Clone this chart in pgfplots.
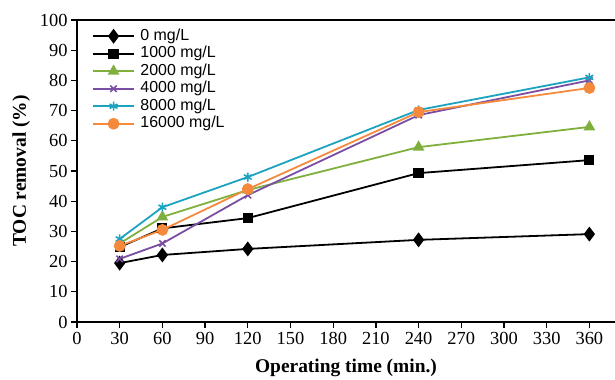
\documentclass[border=0pt]{standalone}
\usepackage{fontspec}
\setmainfont{Liberation Serif}
\newfontfamily\arial{Liberation Sans}
\usepackage{pgfplots}
\pgfplotsset{compat=1.18}
\usetikzlibrary{calc}
\definecolor{cgreen}{HTML}{7FB03E}
\definecolor{cpurple}{HTML}{7A4FA3}
\definecolor{ccyan}{HTML}{1BA3C0}
\definecolor{corange}{HTML}{F58A3C}
\begin{document}
\begin{tikzpicture}
\begin{axis}[name=ax,
  scale only axis, width=538bp, height=302bp,
  xmin=0, xmax=378, ymin=0, ymax=100,
  axis x line*=box, axis y line*=left,
  axis line style={-, line width=1.6bp, black},
  every outer x axis line/.append style={-},
  every outer y axis line/.append style={-},
  xtick={0,30,...,360}, ytick={0,10,...,100},
  xtick pos=bottom, ytick pos=left,
  tick align=outside, major tick length=6bp,
  every tick/.style={black, line width=1.3bp},
  /pgf/number format/assume math mode=true,
  tick label style={font=\fontsize{18.5}{20}\selectfont},
  xticklabel style={yshift=-1bp},
  xlabel={\textbf{Operating time (min.)}},
  ylabel={\textbf{TOC removal (\%)}},
  label style={font=\fontsize{19.5}{22}\selectfont},
  xlabel style={yshift=-7bp},
  ylabel style={yshift=3bp},
  legend cell align=left,
  legend style={draw=none, fill=none, at={(0.028,0.975)}, anchor=north west,
    font=\arial\fontsize{16}{17}\selectfont, row sep=0.5bp, inner sep=0bp,
    nodes={inner sep=1bp, text height=11.5bp, text depth=3.5bp}},
  legend image code/.code={\draw[mark repeat=2,mark phase=2] plot coordinates {(0cm,0cm) (0.72cm,0cm) (1.44cm,0cm)}; \path (1.6cm,0cm);},
  every axis plot/.append style={line width=1.8bp},
]
\addplot[black, mark=diamond*, mark size=6bp, mark options={solid}] coordinates {(30,19.5) (60,22.2) (120,24.2) (240,27.2) (360,29.1)};
\addlegendentry{0 mg/L}
\addplot[black, mark=square*, mark size=4.2bp] coordinates {(30,24.8) (60,31) (120,34.4) (240,49.3) (360,53.6)};
\addlegendentry{1000 mg/L}
\addplot[cgreen, mark=triangle*, mark size=5bp] coordinates {(30,26) (60,34.8) (120,43.7) (240,57.9) (360,64.6)};
\addlegendentry{2000 mg/L}
\addplot[cpurple, mark=x, mark size=4.5bp, mark options={line width=1.6bp}] coordinates {(30,20.9) (60,26) (120,42) (240,68.5) (360,80)};
\addlegendentry{4000 mg/L}
\addplot[ccyan, mark=asterisk, mark size=4.5bp, mark options={line width=1.6bp}] coordinates {(30,27.5) (60,38) (120,48) (240,70.2) (360,81)};
\addlegendentry{8000 mg/L}
\addplot[corange, mark=*, mark size=5bp] coordinates {(30,25.2) (60,30.5) (120,44) (240,69.5) (360,77.5)};
\addlegendentry{16000 mg/L}
\end{axis}
\pgfresetboundingbox
\useasboundingbox ($(ax.south west)+(-77bp,-58bp)$) rectangle ($(ax.north east)+(0bp,20bp)$);
\end{tikzpicture}
\end{document}
